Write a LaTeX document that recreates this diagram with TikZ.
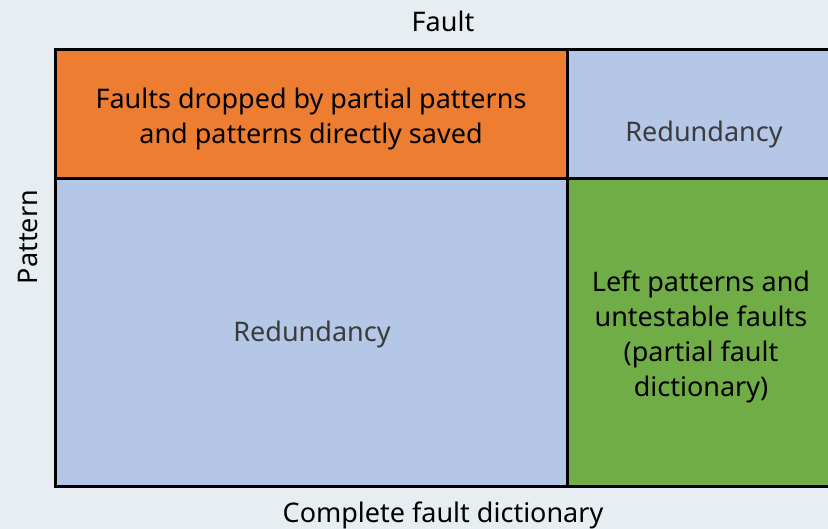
\documentclass[tikz,border=0pt]{standalone}
\usepackage{fontspec}
\setmainfont{Noto Sans}
\definecolor{bgc}{HTML}{E7EEF2}
\definecolor{orangec}{HTML}{ED7D31}
\definecolor{bluec}{HTML}{B4C7E7}
\definecolor{greenc}{HTML}{70AD47}
\definecolor{greytext}{HTML}{3B3B3B}
\tikzset{
  cell/.style={draw=black, line width=3pt},
  celltext/.style={font=\fontsize{27}{35}\selectfont, align=center, inner sep=0pt},
  axislabel/.style={font=\fontsize{27}{32}\selectfont, inner sep=0pt}
}
\begin{document}
\begin{tikzpicture}[x=1pt, y=-1pt]
  % canvas
  \fill[bgc] (0,0) rectangle (828,529);
  \useasboundingbox (0,0) rectangle (828,529);
  % cells of the dictionary grid
  \begin{scope}
    \clip (0,0) rectangle (828,529);
    \filldraw[cell, fill=orangec] (55.5,49.5) rectangle (567,178.5);
    \filldraw[cell, fill=bluec] (567,49.5) rectangle (840,178.5);
    \filldraw[cell, fill=bluec] (55.5,178.5) rectangle (567,486);
    \filldraw[cell, fill=greenc] (567,178.5) rectangle (840,486);
  \end{scope}
  % cell texts
  \node[celltext] (dropped) at (311,118.5) {Faults dropped by partial patterns\\and patterns directly saved};
  \node[celltext, text=greytext] (redtop) at (704,134.5) {Redundancy};
  \node[celltext, text=greytext] (redbig) at (312,334.5) {Redundancy};
  \node[celltext] (left) at (701,337) {Left patterns and\\untestable faults\\(partial fault\\dictionary)};
  % axis labels
  \node[axislabel] (fault) at (443,21) {Fault};
  \node[axislabel] (complete) at (443,515) {Complete fault dictionary};
  \node[axislabel, rotate=90] (pattern) at (28,237) {Pattern};
\end{tikzpicture}
\end{document}
